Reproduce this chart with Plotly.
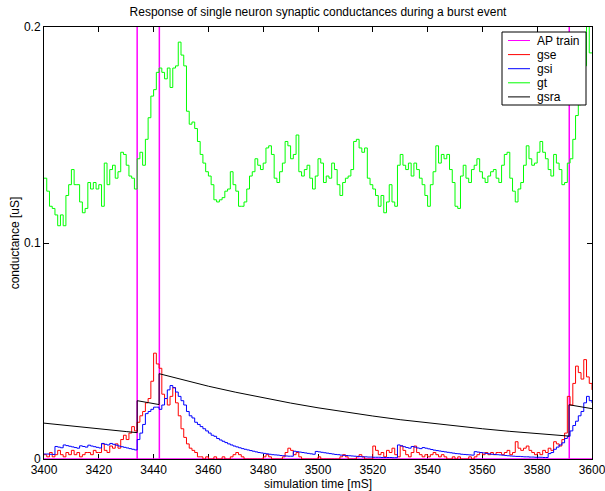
import plotly.graph_objects as go

# ---------------- data ----------------
t_start = 3400
t_step = 1.0  # ms

gt = [
    0.130, 0.124, 0.117, 0.116, 0.113, 0.108, 0.113, 0.108, 0.122, 0.127,
    0.134, 0.127, 0.127, 0.119, 0.114, 0.116, 0.128, 0.125, 0.128, 0.125,
    0.127, 0.117, 0.137, 0.127, 0.134, 0.136, 0.130, 0.133, 0.142, 0.141,
    0.136, 0.131, 0.130, 0.125, 0.139, 0.142, 0.136, 0.148, 0.158, 0.168,
    0.171, 0.179, 0.181, 0.179, 0.176, 0.181, 0.172, 0.181, 0.182, 0.193,
    0.187, 0.182, 0.161, 0.155, 0.156, 0.153, 0.147, 0.141, 0.137, 0.133,
    0.131, 0.127, 0.120, 0.119, 0.120, 0.121, 0.124, 0.125, 0.133, 0.127,
    0.124, 0.117, 0.117, 0.119, 0.125, 0.131, 0.133, 0.139, 0.136, 0.134,
    0.137, 0.144, 0.145, 0.141, 0.130, 0.128, 0.133, 0.137, 0.147, 0.145,
    0.139, 0.141, 0.150, 0.133, 0.131, 0.134, 0.136, 0.130, 0.125, 0.131,
    0.139, 0.137, 0.128, 0.131, 0.130, 0.137, 0.134, 0.127, 0.122, 0.128,
    0.130, 0.131, 0.134, 0.147, 0.148, 0.144, 0.142, 0.144, 0.130, 0.127,
    0.125, 0.122, 0.117, 0.122, 0.114, 0.119, 0.127, 0.119, 0.117, 0.136,
    0.141, 0.136, 0.134, 0.137, 0.131, 0.137, 0.134, 0.130, 0.127, 0.122,
    0.117, 0.127, 0.133, 0.145, 0.137, 0.141, 0.139, 0.141, 0.134, 0.128,
    0.117, 0.116, 0.131, 0.136, 0.130, 0.128, 0.134, 0.136, 0.139, 0.133,
    0.130, 0.128, 0.131, 0.133, 0.134, 0.130, 0.128, 0.136, 0.141, 0.142,
    0.130, 0.124, 0.119, 0.125, 0.128, 0.136, 0.145, 0.139, 0.136, 0.137,
    0.142, 0.147, 0.142, 0.139, 0.134, 0.131, 0.141, 0.137, 0.134, 0.127,
    0.128, 0.137, 0.139, 0.148, 0.159, 0.164, 0.170, 0.182, 0.210, 0.188,
    0.188,
]

gse = [
    0.002, 0.001, 0.003, 0.001, 0.002, 0.004, 0.002, 0.001, 0.003, 0.002,
    0.004, 0.002, 0.003, 0.001, 0.002, 0.003, 0.003, 0.002, 0.004, 0.003,
    0.003, 0.007, 0.004, 0.003, 0.006, 0.005, 0.007, 0.005, 0.009, 0.011,
    0.009, 0.012, 0.015, 0.013, 0.017, 0.020, 0.022, 0.026, 0.028, 0.036,
    0.049, 0.044, 0.042, 0.030, 0.028, 0.025, 0.029, 0.033, 0.026, 0.020,
    0.014, 0.010, 0.007, 0.005, 0.004, 0.003, 0.001, 0.001, 0.000, 0.001,
    0.000, 0.000, 0.001, 0.000, 0.000, 0.001, 0.000, 0.000, 0.001, 0.002,
    0.003, 0.002, 0.001, 0.000, 0.000, 0.000, 0.000, 0.000, 0.000, 0.000,
    0.001, 0.002, 0.001, 0.000, 0.000, 0.000, 0.000, 0.001, 0.003, 0.005,
    0.004, 0.002, 0.003, 0.001, 0.000, 0.000, 0.000, 0.000, 0.000, 0.000,
    0.001, 0.000, 0.000, 0.000, 0.000, 0.000, 0.000, 0.000, 0.001, 0.002,
    0.001, 0.000, 0.000, 0.000, 0.001, 0.002, 0.001, 0.000, 0.000, 0.000,
    0.006, 0.004, 0.002, 0.003, 0.001, 0.004, 0.003, 0.005, 0.002, 0.001,
    0.006, 0.004, 0.002, 0.001, 0.003, 0.006, 0.003, 0.002, 0.001, 0.002,
    0.001, 0.002, 0.003, 0.002, 0.001, 0.002, 0.001, 0.000, 0.000, 0.001,
    0.000, 0.001, 0.000, 0.000, 0.000, 0.001, 0.000, 0.001, 0.002, 0.003,
    0.002, 0.003, 0.002, 0.003, 0.002, 0.003, 0.003, 0.002, 0.003, 0.004,
    0.002, 0.003, 0.008, 0.005, 0.004, 0.005, 0.006, 0.004, 0.003, 0.002,
    0.003, 0.002, 0.004, 0.003, 0.005, 0.004, 0.008, 0.007, 0.006, 0.009,
    0.012, 0.029, 0.025, 0.035, 0.043, 0.040, 0.037, 0.046, 0.038, 0.035,
    0.032,
]

gsi = [
    0.0023, 0.0023, 0.0022, 0.0021, 0.0058, 0.0055, 0.0052, 0.0065, 0.0062, 0.0059,
    0.0056, 0.0053, 0.0050, 0.0061, 0.0058, 0.0055, 0.0064, 0.0060, 0.0057, 0.0054,
    0.0051, 0.0072, 0.0068, 0.0065, 0.0072, 0.0068, 0.0064, 0.0060, 0.0057, 0.0054,
    0.0051, 0.0048, 0.0045, 0.0042, 0.0090, 0.0120, 0.0160, 0.0210, 0.0220, 0.0230,
    0.0240, 0.0240, 0.0230, 0.0250, 0.0280, 0.0320, 0.0340, 0.0330, 0.0310, 0.0290,
    0.0270, 0.0250, 0.0220, 0.0200, 0.0190, 0.0170, 0.0160, 0.0150, 0.0140, 0.0130,
    0.0120, 0.0110, 0.0105, 0.0095, 0.0088, 0.0082, 0.0076, 0.0070, 0.0065, 0.0060,
    0.0056, 0.0052, 0.0048, 0.0045, 0.0042, 0.0039, 0.0036, 0.0033, 0.0030, 0.0028,
    0.0026, 0.0024, 0.0022, 0.0020, 0.0019, 0.0018, 0.0016, 0.0015, 0.0014, 0.0013,
    0.0013, 0.0036, 0.0034, 0.0032, 0.0030, 0.0028, 0.0026, 0.0024, 0.0022, 0.0035,
    0.0033, 0.0031, 0.0029, 0.0027, 0.0025, 0.0023, 0.0021, 0.0020, 0.0018, 0.0017,
    0.0016, 0.0015, 0.0014, 0.0013, 0.0012, 0.0011, 0.0010, 0.0010, 0.0009, 0.0009,
    0.0008, 0.0008, 0.0008, 0.0007, 0.0007, 0.0007, 0.0007, 0.0006, 0.0006, 0.0065,
    0.0061, 0.0057, 0.0053, 0.0050, 0.0058, 0.0055, 0.0051, 0.0048, 0.0053, 0.0050,
    0.0047, 0.0044, 0.0041, 0.0039, 0.0037, 0.0035, 0.0033, 0.0031, 0.0029, 0.0027,
    0.0025, 0.0024, 0.0022, 0.0021, 0.0020, 0.0019, 0.0018, 0.0034, 0.0032, 0.0030,
    0.0028, 0.0026, 0.0024, 0.0022, 0.0021, 0.0020, 0.0019, 0.0018, 0.0016, 0.0015,
    0.0014, 0.0013, 0.0012, 0.0012, 0.0011, 0.0010, 0.0010, 0.0009, 0.0009, 0.0008,
    0.0008, 0.0008, 0.0007, 0.0007, 0.0025, 0.0030, 0.0045, 0.0055, 0.0065, 0.0075,
    0.0095, 0.0105, 0.0130, 0.0155, 0.0175, 0.0200, 0.0220, 0.0260, 0.0290, 0.0270,
    0.0260,
]

gsra_time = [3400, 3405, 3410, 3415, 3420, 3425, 3430, 3434, 3434, 3438,
             3442, 3442, 3450, 3460, 3470, 3480, 3490, 3500, 3510, 3520,
             3530, 3540, 3550, 3560, 3570, 3580, 3591.6, 3591.6, 3600]
gsra = [0.0166, 0.0159, 0.0152, 0.0145, 0.0139, 0.0133, 0.0127, 0.0122, 0.0270, 0.0261,
        0.0252, 0.0395, 0.0368, 0.0337, 0.0309, 0.0283, 0.0259, 0.0237, 0.0217, 0.0199,
        0.0182, 0.0167, 0.0153, 0.0140, 0.0128, 0.0117, 0.0106, 0.0251, 0.0233]

ap_spike_times = [3434.0, 3442.1, 3591.7]
ap_spike_height = 1.0  # spikes go far above the visible range

x_ticks = [3400, 3420, 3440, 3460, 3480, 3500, 3520, 3540, 3560, 3580, 3600]
y_ticks = [0, 0.1, 0.2]
y_tick_labels = ["0", "0.1", "0.2"]

series_names = ["AP train", "gse", "gsi", "gt", "gsra"]
series_colors = ["#FF00FF", "#FF0000", "#0000FF", "#00FF00", "#000000"]

title_text = "Response of single neuron synaptic conductances during a burst event"
x_label = "simulation time [mS]"
y_label = "conductance [uS]"

# ---------------- build ----------------
n = len(gt)
assert len(gse) == n and len(gsi) == n and len(gsra_time) == len(gsra)
t = [t_start + i * t_step for i in range(n)]

ap_x = [t[0]]
ap_y = [0]
for s in ap_spike_times:
    ap_x += [s, s, s]
    ap_y += [0, ap_spike_height, 0]
ap_x.append(t[-1])
ap_y.append(0)

FONT = "Liberation Sans, Arial, Helvetica, sans-serif"

fig = go.Figure()
fig.add_trace(go.Scatter(x=ap_x, y=ap_y, mode="lines", name=series_names[0],
                         line=dict(color=series_colors[0], width=1.5), showlegend=False))
fig.add_trace(go.Scatter(x=t, y=gse, mode="lines", name=series_names[1],
                         line=dict(color=series_colors[1], width=1, shape="hv"), showlegend=False))
fig.add_trace(go.Scatter(x=t, y=gsi, mode="lines", name=series_names[2],
                         line=dict(color=series_colors[2], width=1, shape="hv"), showlegend=False))
fig.add_trace(go.Scatter(x=t, y=gt, mode="lines", name=series_names[3],
                         line=dict(color=series_colors[3], width=1, shape="hv"), showlegend=False))
fig.add_trace(go.Scatter(x=gsra_time, y=gsra, mode="lines", name=series_names[4],
                         line=dict(color=series_colors[4], width=1), showlegend=False))

W, H = 605, 491
L, R, T, B = 44, 13, 27, 32
pw, ph = W - L - R, H - T - B

def px_x(x):
    return (x - L) / pw

def px_y(y):
    return (H - B - y) / ph

# legend box (MATLAB-style, drawn inside the axes)
box_l, box_r, box_t, box_b = 502, 586, 32, 105
shapes = [dict(type="rect", xref="paper", yref="paper",
               x0=px_x(box_l), x1=px_x(box_r), y0=px_y(box_b), y1=px_y(box_t),
               line=dict(color="black", width=1), fillcolor="white", layer="above")]
annotations = []
row0, row_gap = 40.5, 14.1
for i, (nm, col) in enumerate(zip(series_names, series_colors)):
    yy = row0 + i * row_gap
    shapes.append(dict(type="line", xref="paper", yref="paper",
                       x0=px_x(508), x1=px_x(530), y0=px_y(yy), y1=px_y(yy),
                       line=dict(color=col, width=1), layer="above"))
    annotations.append(dict(xref="paper", yref="paper", x=px_x(535), y=px_y(yy),
                            text=nm, showarrow=False, xanchor="left", yanchor="middle",
                            font=dict(family=FONT, size=12, color="black")))

fig.update_layout(
    width=W, height=H,
    margin=dict(l=L, r=R, t=T, b=B, pad=0),
    paper_bgcolor="white", plot_bgcolor="white",
    font=dict(family=FONT, size=12, color="black"),
    title=dict(text=title_text, x=px_x(318), xref="paper", xanchor="center",
               y=1 - 12 / H, yref="container", yanchor="middle",
               font=dict(family=FONT, size=12, color="black")),
    shapes=shapes, annotations=annotations,
    showlegend=False,
)
fig.update_xaxes(range=[3400, 3600], tickmode="array", tickvals=x_ticks,
                 ticks="inside", ticklen=5, tickcolor="black", tickwidth=1,
                 showline=True, linecolor="black", linewidth=1, mirror="ticks",
                 showgrid=False, zeroline=False, layer="below traces",
                 automargin=False, ticklabeloverflow="allow",
                 tickfont=dict(family=FONT, size=12, color="black"),
                 title=dict(text=x_label, standoff=0,
                            font=dict(family=FONT, size=12, color="black")))
fig.update_yaxes(range=[0, 0.2], tickmode="array", tickvals=y_ticks, ticktext=y_tick_labels,
                 ticks="inside", ticklen=5, tickcolor="black", tickwidth=1,
                 showline=True, linecolor="black", linewidth=1, mirror="ticks",
                 showgrid=False, zeroline=False, layer="below traces",
                 automargin=False, ticklabeloverflow="allow",
                 tickfont=dict(family=FONT, size=12, color="black"),
                 title=dict(text=y_label, standoff=1,
                            font=dict(family=FONT, size=12, color="black")))

fig.write_html(
    "out.html",
    config={"displayModeBar": False},
    post_script="document.body.style.margin='0';document.body.style.padding='0';"
                "document.documentElement.style.overflow='hidden';",
)
